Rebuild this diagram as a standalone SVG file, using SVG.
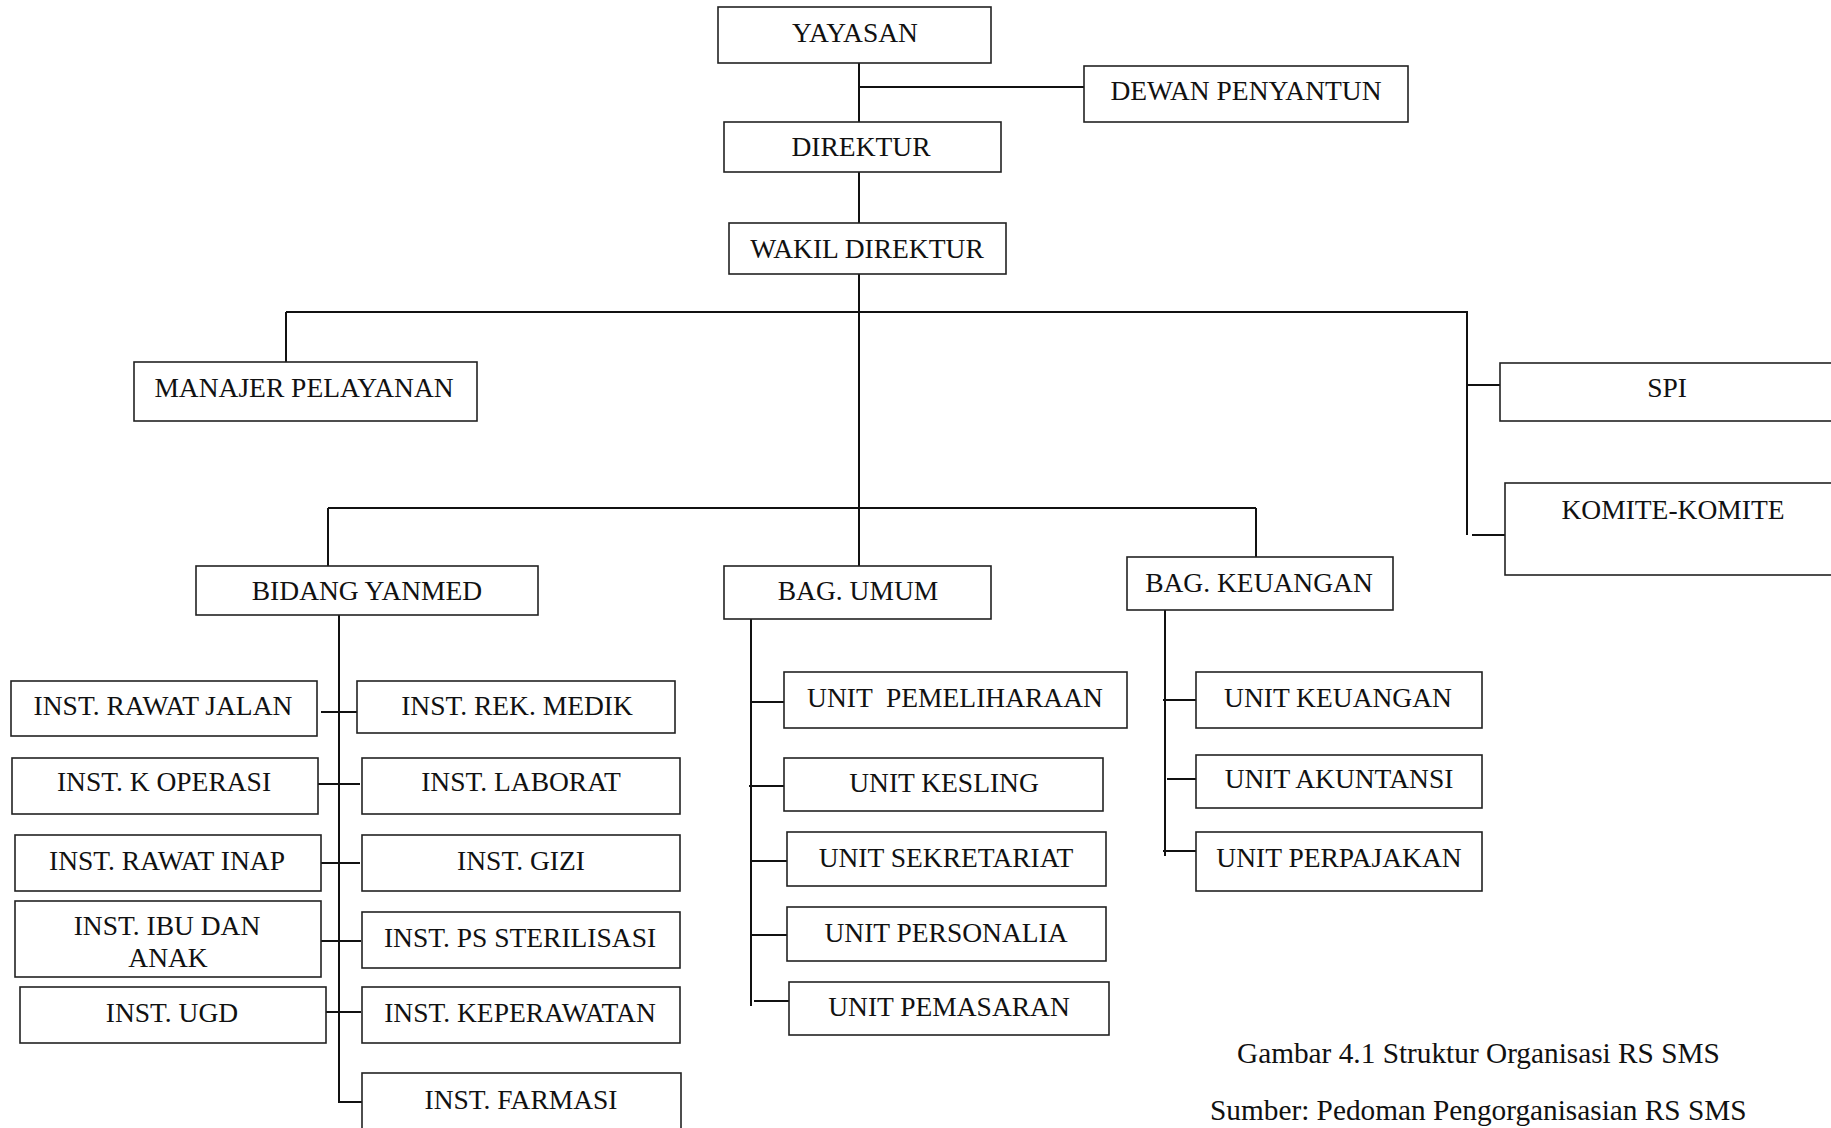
<svg xmlns="http://www.w3.org/2000/svg" width="1831" height="1128" viewBox="0 0 1831 1128">
<style>
.box{fill:#fff;stroke:#222;stroke-width:1.6}
.t{font-family:"Liberation Serif","Times New Roman",serif;font-size:27.5px;fill:#111;text-anchor:middle;white-space:pre}
.cap{font-family:"Liberation Serif","Times New Roman",serif;font-size:29.3px;fill:#111}
.ln{stroke:#111;stroke-width:2;fill:none}
</style>
<rect width="1831" height="1128" fill="#fff"/>
<g id="connectors" class="ln">
<path d="M859 63V122M859 87H1084M859 172V223M859 274V566"/>
<path d="M286 312H1467M286 312V362M1467 311V535M1467 385H1500M1472 535H1505"/>
<path d="M328 508H1256M328 508V566M1256 508V557"/>
<path d="M339 615V1103M321 712H361M316 784H360M318 863H360M321 941H361M322 1012H361M339 1102H362"/>
<path d="M751 619V1006M751 702H784M749 786H784M751 861H787M751 935H787M754 1001H789"/>
<path d="M1165 610V856M1163 700H1196M1167 779H1200M1163 851H1196"/>
</g>
<g id="yayasan"><rect class="box" x="718" y="7" width="273" height="56"/><text class="t" x="855" y="42">YAYASAN</text></g>
<g id="dewan"><rect class="box" x="1084" y="66" width="324" height="56"/><text class="t" x="1246" y="100">DEWAN PENYANTUN</text></g>
<g id="direktur"><rect class="box" x="724" y="122" width="277" height="50"/><text class="t" x="861" y="156">DIREKTUR</text></g>
<g id="wakil"><rect class="box" x="729" y="223" width="277" height="51"/><text class="t" x="867" y="258">WAKIL DIREKTUR</text></g>
<g id="manajer"><rect class="box" x="134" y="362" width="343" height="59"/><text class="t" x="304" y="397">MANAJER PELAYANAN</text></g>
<g id="spi"><rect class="box" x="1500" y="363" width="345" height="58"/><text class="t" x="1667" y="397">SPI</text></g>
<g id="komite"><rect class="box" x="1505" y="483" width="340" height="92"/><text class="t" x="1673" y="519">KOMITE-KOMITE</text></g>
<g id="yanmed"><rect class="box" x="196" y="566" width="342" height="49"/><text class="t" x="367" y="600">BIDANG YANMED</text></g>
<g id="umum"><rect class="box" x="724" y="566" width="267" height="53"/><text class="t" x="858" y="600">BAG. UMUM</text></g>
<g id="keuangan"><rect class="box" x="1127" y="557" width="266" height="53"/><text class="t" x="1259" y="592">BAG. KEUANGAN</text></g>
<g id="rawat-jalan"><rect class="box" x="11" y="681" width="306" height="55"/><text class="t" x="163" y="715">INST. RAWAT JALAN</text></g>
<g id="rek-medik"><rect class="box" x="357" y="681" width="318" height="52"/><text class="t" x="517" y="715">INST. REK. MEDIK</text></g>
<g id="k-operasi"><rect class="box" x="12" y="758" width="306" height="56"/><text class="t" x="164" y="791">INST. K OPERASI</text></g>
<g id="laborat"><rect class="box" x="362" y="758" width="318" height="56"/><text class="t" x="521" y="791">INST. LABORAT</text></g>
<g id="rawat-inap"><rect class="box" x="15" y="835" width="306" height="56"/><text class="t" x="167" y="870">INST. RAWAT INAP</text></g>
<g id="gizi"><rect class="box" x="362" y="835" width="318" height="56"/><text class="t" x="521" y="870">INST. GIZI</text></g>
<g id="ibu-anak"><rect class="box" x="15" y="901" width="306" height="76"/><text class="t" x="167" y="935">INST. IBU DAN</text><text class="t" x="168" y="967">ANAK</text></g>
<g id="sterilisasi"><rect class="box" x="362" y="912" width="318" height="56"/><text class="t" x="520" y="947">INST. PS STERILISASI</text></g>
<g id="ugd"><rect class="box" x="20" y="987" width="306" height="56"/><text class="t" x="172" y="1022">INST. UGD</text></g>
<g id="keperawatan"><rect class="box" x="362" y="987" width="318" height="56"/><text class="t" x="520" y="1022">INST. KEPERAWATAN</text></g>
<g id="farmasi"><rect class="box" x="362" y="1073" width="319" height="80"/><text class="t" x="521" y="1109">INST. FARMASI</text></g>
<g id="pemeliharaan"><rect class="box" x="784" y="672" width="343" height="56"/><text class="t" x="955" y="707">UNIT  PEMELIHARAAN</text></g>
<g id="kesling"><rect class="box" x="784" y="758" width="319" height="53"/><text class="t" x="944" y="792">UNIT KESLING</text></g>
<g id="sekretariat"><rect class="box" x="787" y="832" width="319" height="54"/><text class="t" x="946" y="867">UNIT SEKRETARIAT</text></g>
<g id="personalia"><rect class="box" x="787" y="907" width="319" height="54"/><text class="t" x="946" y="942">UNIT PERSONALIA</text></g>
<g id="pemasaran"><rect class="box" x="789" y="982" width="320" height="53"/><text class="t" x="949" y="1016">UNIT PEMASARAN</text></g>
<g id="unit-keuangan"><rect class="box" x="1196" y="672" width="286" height="56"/><text class="t" x="1338" y="707">UNIT KEUANGAN</text></g>
<g id="akuntansi"><rect class="box" x="1196" y="755" width="286" height="53"/><text class="t" x="1339" y="788">UNIT AKUNTANSI</text></g>
<g id="perpajakan"><rect class="box" x="1196" y="832" width="286" height="59"/><text class="t" x="1339" y="867">UNIT PERPAJAKAN</text></g>
<g id="caption">
<text class="cap" x="1237" y="1063">Gambar 4.1 Struktur Organisasi RS SMS</text>
<text class="cap" x="1210" y="1120">Sumber: Pedoman Pengorganisasian RS SMS</text>
</g>
</svg>
